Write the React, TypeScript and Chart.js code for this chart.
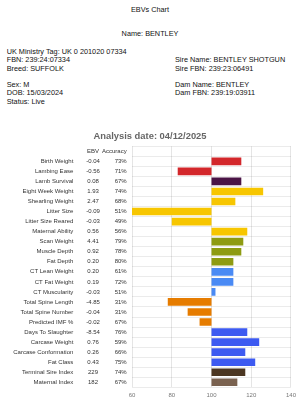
import React, { useEffect, useRef } from "react";
import { Chart, registerables } from "chart.js";

Chart.register(...registerables);

const traits = [
  "Birth Weight", "Lambing Ease", "Lamb Survival", "Eight Week Weight", "Shearling Weight",
  "Litter Size", "Litter Size Reared", "Maternal Ability", "Scan Weight", "Muscle Depth",
  "Fat Depth", "CT Lean Weight", "CT Fat Weight", "CT Muscularity", "Total Spine Length",
  "Total Spine Number", "Predicted IMF %", "Days To Slaughter", "Carcase Weight",
  "Carcase Conformation", "Fat Class", "Terminal Sire Index", "Maternal Index",
];
const ebvs = [
  "-0.04", "-0.56", "0.08", "1.93", "2.47", "-0.09", "-0.03", "0.56", "4.41", "0.92",
  "0.20", "0.20", "0.19", "-0.03", "-4.85", "-0.04", "-0.02", "-8.54", "0.76", "0.26",
  "0.43", "229", "182",
];
const accuracies = [
  "73%", "71%", "67%", "74%", "68%", "51%", "49%", "56%", "79%", "78%", "80%", "61%",
  "72%", "51%", "31%", "31%", "67%", "76%", "59%", "66%", "75%", "74%", "67%",
];
const scores = [
  115, 83, 115, 126, 112, 60, 80, 118, 116, 115, 111, 111, 111, 102, 78, 88, 94, 118,
  124, 117, 122, 117, 113,
];
const barColors = [
  "#d3272b", "#d3272b", "#4a1446", "#f7c600", "#f7c600", "#f7c600", "#f7c600", "#f7c600",
  "#8e9b12", "#8e9b12", "#8e9b12", "#4a8af4", "#4a8af4", "#4a8af4", "#e67c00", "#e67c00",
  "#e67c00", "#3d5af1", "#3d5af1", "#3d5af1", "#3d5af1", "#4b3621", "#7a6250",
];
const xTicks = [60, 80, 100, 120, 140];
const baseline = 100;

const FONT = "'Liberation Sans', Arial, Helvetica, sans-serif";

const leftLines = [
  { t: "UK Ministry Tag: UK 0 201020 07334", y: 51.7 },
  { t: "FBN: 239:24:07334", y: 60 },
  { t: "Breed: SUFFOLK", y: 68.5 },
  { t: "Sex: M", y: 84.5 },
  { t: "DOB: 15/03/2024", y: 93 },
  { t: "Status: Live", y: 101.7 },
];
const rightLines = [
  { t: "Sire Name: BENTLEY SHOTGUN", y: 60 },
  { t: "Sire FBN: 239:23:06491", y: 68.5 },
  { t: "Dam Name: BENTLEY", y: 84.5 },
  { t: "Dam FBN: 239:19:03911", y: 93 },
];

const labelsPlugin = {
  id: "ebvLabels",
  afterDraw(chart: any) {
    const ctx = chart.ctx;
    const y = chart.scales.y;
    ctx.save();
    ctx.font = `6px ${FONT}`;
    ctx.fillStyle = "#333";
    ctx.textBaseline = "middle";
    const hy = y.getPixelForValue(0);
    ctx.textAlign = "center";
    ctx.fillText("EBV", 93, hy);
    ctx.textAlign = "right";
    ctx.fillText("Accuracy", 126.7, hy);
    traits.forEach((t, i) => {
      const py = y.getPixelForValue(i + 1);
      ctx.textAlign = "right";
      ctx.fillText(t, 73.3, py);
      ctx.textAlign = "center";
      ctx.fillText(ebvs[i], 93, py);
      ctx.textAlign = "right";
      ctx.fillText(accuracies[i], 126.7, py);
    });
    ctx.restore();
  },
};

function ChartCanvas() {
  const ref = useRef<HTMLCanvasElement | null>(null);
  useEffect(() => {
    if (!ref.current) return;
    const labels = ["", ...traits];
    const data = [null, ...scores.map((s) => [baseline, s])];
    const chart = new Chart(ref.current, {
      type: "bar",
      data: {
        labels,
        datasets: [
          {
            data: data as any,
            backgroundColor: ["transparent", ...barColors],
            borderWidth: 0,
            barPercentage: 0.95,
            categoryPercentage: 0.8,
          },
        ],
      },
      plugins: [labelsPlugin],
      options: {
        indexAxis: "y",
        responsive: false,
        animation: false,
        devicePixelRatio: 1,
        layout: { padding: { left: 8, right: 8, top: 0, bottom: 7.5 } },
        plugins: {
          legend: { display: false },
          tooltip: { enabled: false },
          title: {
            display: true,
            text: "Analysis date: 04/12/2025",
            color: "#666",
            font: { family: FONT, size: 9.4, weight: "bold" },
            padding: { top: 10.5, bottom: 4.5 },
          },
        },
        scales: {
          x: {
            type: "linear",
            min: xTicks[0],
            max: xTicks[xTicks.length - 1],
            afterBuildTicks: (axis: any) => {
              axis.ticks = xTicks.map((v) => ({ value: v }));
            },
            ticks: { color: "#777", font: { family: FONT, size: 6 }, padding: 4 },
            grid: { drawTicks: false, color: "rgba(0,0,0,0.1)" },
            border: { display: false },
          },
          y: {
            ticks: { display: false },
            afterFit: (axis: any) => {
              axis.width = 124;
            },
            grid: { drawTicks: false, color: "rgba(0,0,0,0.08)" },
            border: { display: false },
          },
        },
      },
    });
    return () => chart.destroy();
  }, []);
  return (
    <canvas
      ref={ref}
      width={300}
      height={290}
      style={{ position: "absolute", left: 0, top: 120, width: 300, height: 290, display: "block" }}
    />
  );
}

const lineStyle = (y: number, x?: number, center?: boolean): React.CSSProperties => ({
  position: "absolute",
  top: y - 5,
  left: center ? 0 : x,
  width: center ? 300 : undefined,
  textAlign: center ? "center" : "left",
  lineHeight: "10px",
  height: 10,
  fontSize: 7.3,
  fontFamily: FONT,
  color: "#111",
  whiteSpace: "nowrap",
});

export default function App() {
  return (
    <div style={{ position: "absolute", left: 0, top: 0, width: 300, height: 410, background: "#fff", overflow: "hidden" }}>
      <div style={lineStyle(10, 0, true)}>EBVs Chart</div>
      <div style={lineStyle(34, 0, true)}>Name: BENTLEY</div>
      {leftLines.map((l) => (
        <div key={l.t} style={lineStyle(l.y, 6.7)}>{l.t}</div>
      ))}
      {rightLines.map((l) => (
        <div key={l.t} style={lineStyle(l.y, 175)}>{l.t}</div>
      ))}
      <ChartCanvas />
    </div>
  );
}
